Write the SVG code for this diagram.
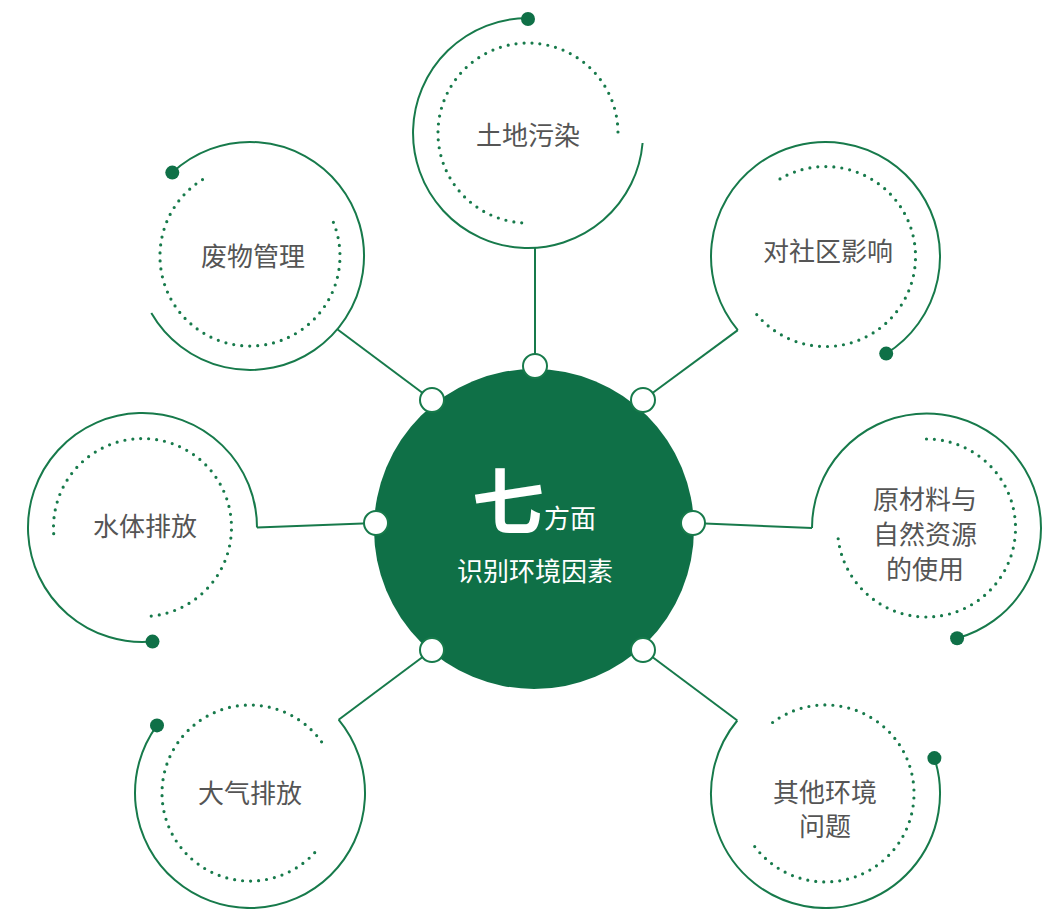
<svg xmlns="http://www.w3.org/2000/svg" width="1049" height="909" viewBox="0 0 1049 909">
<style>
.arc{fill:none;stroke:#177a4b;stroke-width:2}
.dot{fill:none;stroke:#177a4b;stroke-width:3.2;stroke-linecap:round;stroke-dasharray:0 8}
.end{fill:#0f7047}
.port{fill:#fff;stroke:#177a4b;stroke-width:2}
.lbl{font-family:"Noto Sans CJK SC","Noto Sans",sans-serif;font-size:26px;fill:#555555;text-anchor:middle}
.ctr{font-family:"Noto Sans CJK SC","Noto Sans",sans-serif;fill:#fff}
</style>
<rect width="1049" height="909" fill="#fff"/>
<g id="connectors">
<line class="arc" x1="535" y1="247.8" x2="535" y2="366"/>
<line class="arc" x1="337.3" y1="329.3" x2="432" y2="400"/>
<path class="arc" d="M643,400 L737.8,330.1"/>
<path class="arc" d="M376,523 L257,527.5"/>
<path class="arc" d="M693,523 L812,528"/>
<path class="arc" d="M432,650 L338.6,719.7"/>
<path class="arc" d="M643,650 L737.3,720.5"/>
</g>
<g id="node-soil">
<path class="arc" d="M528,18 A115,115 0 1 0 642.6,143"/>
<path class="dot" d="M521.7,222.8 A90,90 0 1 1 617.9,136.9"/>
<circle class="end" cx="528" cy="19" r="7"/>
<text class="lbl" x="528" y="145">土地污染</text>
</g>
<g id="node-waste">
<path class="arc" d="M172.3,172.6 A114,114 0 1 1 151.3,313"/>
<path class="dot" d="M333.4,222.3 A90,90 0 1 1 206.4,177.3"/>
<circle class="end" cx="172.3" cy="172.6" r="7"/>
<text class="lbl" x="253" y="266">废物管理</text>
</g>
<g id="node-community">
<path class="arc" d="M737.8,330.1 A114.5,114.5 0 1 1 886.2,353.6"/>
<path class="dot" d="M780,178.9 A90,90 0 1 1 753.8,310.9"/>
<circle class="end" cx="886.2" cy="353.6" r="7"/>
<text class="lbl" x="828" y="261">对社区影响</text>
</g>
<g id="node-water">
<path class="arc" d="M257,527.5 A114.5,114.5 0 1 0 152.5,641.6"/>
<path class="dot" d="M53.7,533.7 A89,89 0 1 1 144.05,616.5"/>
<circle class="end" cx="152.5" cy="641.6" r="7"/>
<text class="lbl" x="145" y="536">水体排放</text>
</g>
<g id="node-resources">
<path class="arc" d="M812,528 A114.5,114.5 0 1 1 957.1,638.3"/>
<path class="dot" d="M926.5,439 A89,89 0 1 1 838.1,538.1"/>
<circle class="end" cx="957.1" cy="638.3" r="7"/>
<text class="lbl" x="925" y="509">原材料与</text>
<text class="lbl" x="925" y="544">自然资源</text>
<text class="lbl" x="925" y="579">的使用</text>
</g>
<g id="node-air">
<path class="arc" d="M338.6,719.7 A115,115 0 1 1 157,725.4"/>
<path class="dot" d="M314.7,852.7 A88,88 0 1 1 322.6,743.3"/>
<circle class="end" cx="157" cy="725.4" r="7"/>
<text class="lbl" x="250" y="803">大气排放</text>
</g>
<g id="node-other">
<path class="arc" d="M737.3,720.5 A114.5,114.5 0 1 0 934.4,758.1"/>
<path class="dot" d="M772.6,722.5 A88.5,88.5 0 1 1 752.6,843.6"/>
<circle class="end" cx="934.4" cy="758.1" r="7"/>
<text class="lbl" x="825" y="802">其他环境</text>
<text class="lbl" x="825" y="836">问题</text>
</g>
<g id="center">
<circle cx="534" cy="529" r="160" fill="#0f7047"/>
<text class="ctr" x="508" y="528" font-size="72" font-weight="bold" text-anchor="middle">七</text>
<text class="ctr" x="544" y="528" font-size="26">方面</text>
<text class="ctr" x="535" y="581" font-size="26" text-anchor="middle">识别环境因素</text>
</g>
<g id="ports">
<circle class="port" cx="535" cy="366" r="12"/>
<circle class="port" cx="432" cy="400" r="12"/>
<circle class="port" cx="643" cy="400" r="12"/>
<circle class="port" cx="376" cy="523" r="12"/>
<circle class="port" cx="693" cy="523" r="12"/>
<circle class="port" cx="432" cy="650" r="12"/>
<circle class="port" cx="643" cy="650" r="12"/>
</g>
</svg>
